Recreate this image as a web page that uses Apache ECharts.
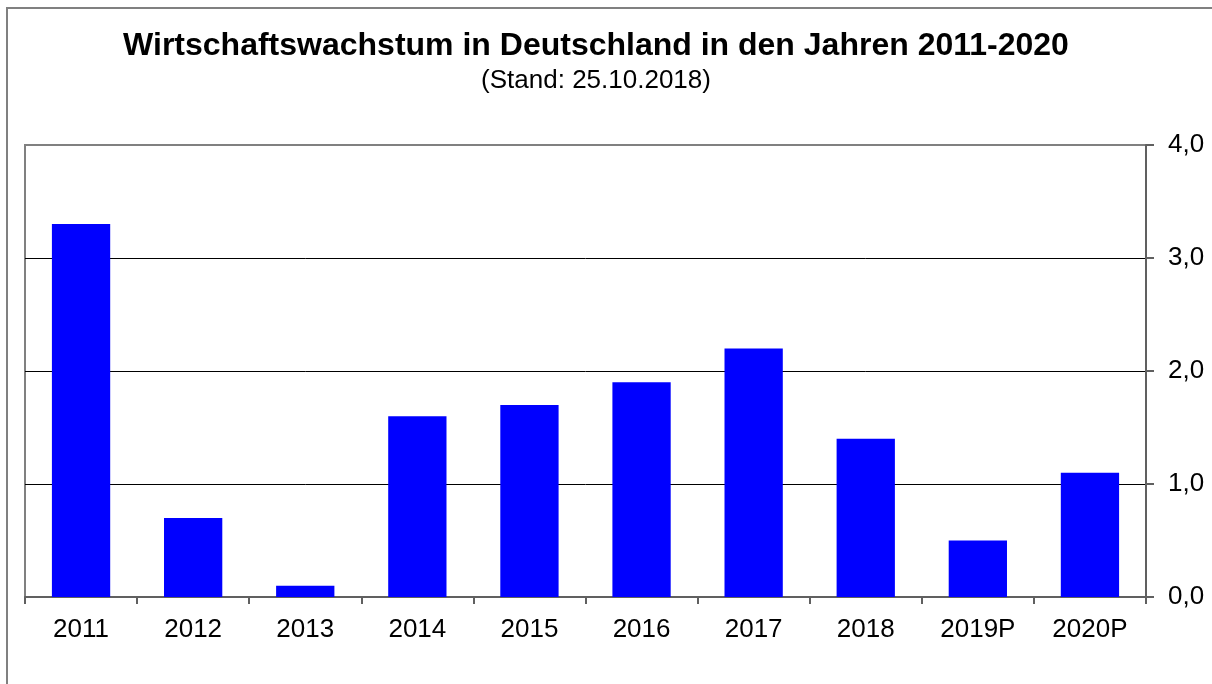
<!DOCTYPE html>
<html><head><meta charset="utf-8">
<script src="https://cdn.jsdelivr.net/npm/echarts@6/dist/echarts.min.js"></script>
<style>html,body{margin:0;padding:0;background:#fff}#c{width:1212px;height:684px}</style>
</head><body><div id="c"></div>
<script>
const categories = ['2011','2012','2013','2014','2015','2016','2017','2018','2019P','2020P'];
const growth = [3.3, 0.7, 0.1, 1.6, 1.7, 1.9, 2.2, 1.4, 0.5, 1.1];
const yTicks = [0, 1, 2, 3, 4];
const titleText = 'Wirtschaftswachstum in Deutschland in den Jahren 2011-2020';
const subtitleText = '(Stand: 25.10.2018)';

const chart = echarts.init(document.getElementById('c'), null, {renderer: 'canvas'});
const font = 'Liberation Sans, Arial, sans-serif';
chart.setOption({
  animation: false,
  backgroundColor: '#fff',
  title: {
    text: titleText,
    subtext: subtitleText,
    left: 591, top: 23, textAlign: 'center', itemGap: 2,
    textStyle: {fontFamily: font, fontSize: 32, fontWeight: 'bold', color: '#000', lineHeight: 36},
    subtextStyle: {fontFamily: font, fontSize: 26, color: '#000', lineHeight: 30}
  },
  graphic: [{
    type: 'rect', shape: {x: 7, y: 8, width: 1230, height: 700},
    style: {fill: 'none', stroke: '#808080', lineWidth: 2}, silent: true
  }],
  grid: {left: 25, right: 66, top: 145, bottom: 87, show: true, borderColor: '#808080', borderWidth: 2, backgroundColor: 'transparent'},
  xAxis: {
    type: 'category', data: categories, boundaryGap: true,
    axisLine: {lineStyle: {color: '#606060', width: 2}},
    axisTick: {show: true, length: 7, alignWithLabel: false, lineStyle: {color: '#606060', width: 2}},
    axisLabel: {fontFamily: font, fontSize: 26, color: '#000', margin: 20}
  },
  yAxis: {
    type: 'value', position: 'right', min: 0, max: 4, interval: 1,
    axisLine: {show: true, lineStyle: {color: '#606060', width: 2}},
    axisTick: {show: true, length: 8, lineStyle: {color: '#606060', width: 2}},
    axisLabel: {fontFamily: font, fontSize: 26, color: '#000', margin: 22,
      formatter: v => v.toFixed(1).replace('.', ',')},
    splitLine: {show: true, lineStyle: {color: ['#000','#000','#000','#000','#808080'], width: 1}}
  },
  series: [{
    type: 'bar', data: growth, barWidth: '52%',
    itemStyle: {color: '#0000FF'}
  }]
});
</script></body></html>
